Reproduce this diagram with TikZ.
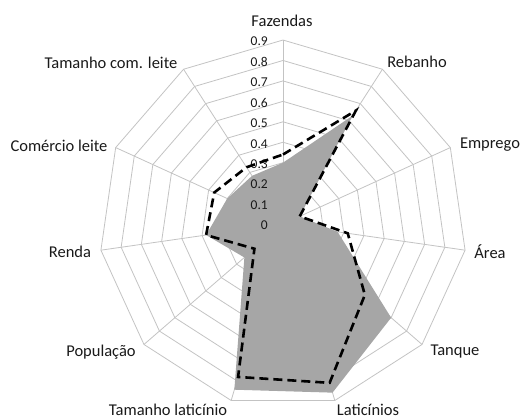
\documentclass[tikz,border=0pt]{standalone}
\usepackage{fontspec}
\setmainfont{Carlito}
\definecolor{gridgray}{RGB}{195,195,195}
\definecolor{fillgray}{RGB}{166,166,166}
\definecolor{labelgray}{RGB}{25,25,25}
\begin{document}
\begin{tikzpicture}[x=1pt,y=1pt,
  gridline/.style={draw=gridgray, line width=0.8pt},
  axislabel/.style={font=\fontsize{16.5}{20}\selectfont, text=labelgray, inner sep=0pt},
  ticklabel/.style={font=\fontsize{13.5}{15}\selectfont, text=labelgray, anchor=east, inner sep=0pt},
  seriesA/.style={fill=fillgray, draw=none},
  seriesB/.style={draw=black, line width=2.6pt, dash pattern=on 9pt off 5pt, line join=miter}]
\useasboundingbox (-283,-195) rectangle (238,224);
\def\U{20.44}
\coordinate (O) at (0,0);
\foreach \k in {0,...,10} { \coordinate (o\k) at ({90-\k*360/11}:{9*\U}); }
% rings
\foreach \j in {1,...,9} {
  \draw[gridline] (90:{\j*\U}) \foreach \k in {1,...,10} { -- ({90-\k*360/11}:{\j*\U}) } -- cycle;
}
% spokes
\foreach \k in {0,...,10} { \draw[gridline] (O) -- (o\k); }
% series A (gray area)
\foreach \v [count=\k from 0] in {0.30,0.63,0.09,0.27,0.70,0.86,0.845,0.25,0.38,0.30,0.28} {
  \coordinate (a\k) at ({90-\k*360/11}:{\v*10*\U});
}
\fill[seriesA] (a0) -- (a1) -- (a2) -- (a3) -- (a4) -- (a5) -- (a6) -- (a7) -- (a8) -- (a9) -- (a10) -- cycle;
% tick labels
\foreach \t [count=\j from 0] in {0,0.1,0.2,0.3,0.4,0.5,0.6,0.7,0.8,0.9} {
  \node[ticklabel] (t\j) at (-15, {\j*\U - 1.5}) {\t};
}
% series B (dashed)
\foreach \v [count=\k from 0] in {0.34,0.66,0.09,0.32,0.53,0.81,0.78,0.185,0.38,0.37,0.33} {
  \coordinate (b\k) at ({90-\k*360/11}:{\v*10*\U});
}
\draw[seriesB] (b0) -- (b1) -- (b2) -- (b3) -- (b4) -- (b5) -- (b6) -- (b7) -- (b8) -- (b9) -- (b10) -- cycle;
% axis labels
\node[axislabel] (l0) at (-1,203) {Fazendas};
\node[axislabel] (l1) at (134,162) {Rebanho};
\node[axislabel] (l2) at (207,79) {Emprego};
\node[axislabel] (l3) at (207,-28) {Área};
\node[axislabel] (l4) at (172,-128) {Tanque};
\node[axislabel] (l5) at (85,-186) {Laticínios};
\node[axislabel] (l6) at (-115,-186) {Tamanho laticínio};
\node[axislabel] (l7) at (-182,-128) {População};
\node[axislabel] (l8) at (-213,-28) {Renda};
\node[axislabel] (l9) at (-224,78) {Comércio leite};
\node[axislabel] (l10) at (-172,161) {Tamanho com. leite};
\end{tikzpicture}
\end{document}
